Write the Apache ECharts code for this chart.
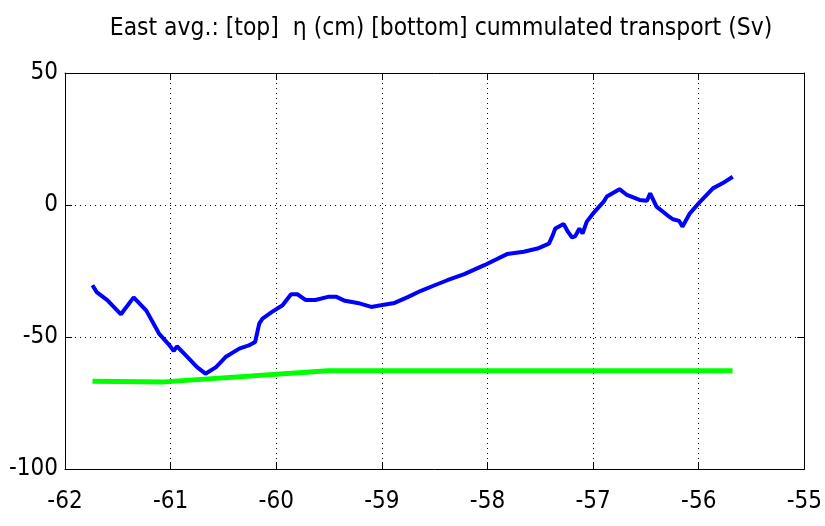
<!DOCTYPE html>
<html><head><meta charset="utf-8">
<script src="https://cdn.jsdelivr.net/npm/echarts@6/dist/echarts.min.js"></script>
<style>html,body{margin:0;padding:0;background:#fff}#c{width:825px;height:526px}</style>
</head><body><div id="c"></div>
<script>
const titleText = 'East avg.: [top]  \u03b7 (cm) [bottom] cummulated transport (Sv)';
const xTicks = [-62, -61, -60, -59, -58, -57, -56, -55];
const yTicks = [-100, -50, 0, 50];
const etaX = [-61.74,-61.70,-61.60,-61.47,-61.35,-61.23,-61.11,-61.01,-60.97,-60.94,-60.84,-60.75,-60.67,-60.57,-60.48,-60.35,-60.26,-60.20,-60.16,-60.13,-60.04,-59.94,-59.86,-59.80,-59.72,-59.63,-59.51,-59.43,-59.35,-59.23,-59.10,-59.01,-58.88,-58.75,-58.63,-58.50,-58.38,-58.22,-58.03,-57.815,-57.656,-57.527,-57.418,-57.388,-57.358,-57.279,-57.239,-57.199,-57.169,-57.13,-57.10,-57.06,-57.00,-56.90,-56.87,-56.75,-56.68,-56.56,-56.49,-56.46,-56.40,-56.30,-56.245,-56.185,-56.155,-56.085,-55.995,-55.866,-55.776,-55.678];
const etaY = [-30.4,-33,-36,-41.4,-35,-40,-48.7,-53.2,-55.3,-53.5,-57.6,-61.4,-63.9,-61.4,-57.6,-54.4,-53.2,-51.9,-44.8,-43,-40.5,-38,-33.8,-33.8,-36,-36,-34.8,-34.8,-36.3,-37.1,-38.6,-38,-37.1,-34.8,-32.5,-30.4,-28.5,-26.2,-22.8,-18.6,-17.7,-16.5,-14.6,-12,-8.9,-7.2,-10.1,-12.3,-11.8,-8.9,-10.8,-6.3,-3.2,1.3,3.2,6,3.8,1.9,1.6,4.4,-0.6,-3.8,-5.4,-6,-8.2,-3.2,0.9,6.3,8.2,10.7];
const transX = [-61.74,-61.06,-59.51,-55.68];
const transY = [-66.8,-67.0,-62.8,-62.8];

const font = '"DejaVu Sans Condensed","Liberation Sans Narrow","Liberation Sans",Arial,sans-serif';
const chart = echarts.init(document.getElementById('c'));
const zip = (a,b)=>a.map((v,i)=>[v,b[i]]);
chart.setOption({
  animation:false,
  title:{text:titleText,left:436,top:12,textAlign:'center',textStyle:{fontFamily:font,fontSize:24.4,fontWeight:'normal',color:'#000'}},
  grid:{left:65,right:16,top:73,bottom:57,show:false},
  xAxis:[
    {type:'value',min:xTicks[0],max:xTicks[xTicks.length-1],interval:1,position:'bottom',
     axisLine:{show:true,onZero:false,lineStyle:{color:'#000',width:1}},
     axisTick:{show:true,inside:true,length:7,lineStyle:{color:'#000'}},
     axisLabel:{color:'#000',fontFamily:font,fontSize:24,margin:21,formatter:v=>String(v)},
     splitLine:{show:true,lineStyle:{color:'#000',type:[1,4],width:1}}},
    {type:'value',min:xTicks[0],max:xTicks[xTicks.length-1],interval:1,position:'top',
     axisLine:{show:true,onZero:false,lineStyle:{color:'#000',width:1}},
     axisTick:{show:true,inside:true,length:7,lineStyle:{color:'#000'}},
     axisLabel:{show:false},splitLine:{show:false}}
  ],
  yAxis:[
    {type:'value',min:yTicks[0],max:yTicks[yTicks.length-1],interval:50,position:'left',
     axisLine:{show:true,onZero:false,lineStyle:{color:'#000',width:1}},
     axisTick:{show:true,inside:true,length:7,lineStyle:{color:'#000'}},
     axisLabel:{color:'#000',fontFamily:font,fontSize:24,margin:7},
     splitLine:{show:true,lineStyle:{color:'#000',type:[1,4],width:1}}},
    {type:'value',min:yTicks[0],max:yTicks[yTicks.length-1],interval:50,position:'right',
     axisLine:{show:true,onZero:false,lineStyle:{color:'#000',width:1}},
     axisTick:{show:true,inside:true,length:7,lineStyle:{color:'#000'}},
     axisLabel:{show:false},splitLine:{show:false}}
  ],
  series:[
    {type:'line',data:zip(transX,transY),showSymbol:false,lineStyle:{color:'#00ff00',width:5},z:3},
    {type:'line',data:zip(etaX,etaY),showSymbol:false,lineStyle:{color:'#0000ff',width:4},z:4}
  ]
});
</script></body></html>
